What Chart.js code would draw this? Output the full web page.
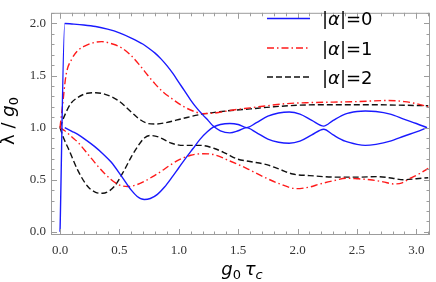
<!DOCTYPE html>
<html>
<head>
<meta charset="utf-8">
<script src="https://cdn.jsdelivr.net/npm/chart.js@4.4.0/dist/chart.umd.min.js"></script>
<style>
  body { margin: 0; background: #fff; }
  canvas { display: block; }
</style>
</head>
<body>
<canvas id="myChart" width="436" height="282"></canvas>
<script>
// |alpha|=0, two branches (blue)
const blueAX = [0, 0.04, 0.1, 0.2, 0.3, 0.4, 0.5, 0.6, 0.7, 0.75, 0.8, 0.85, 0.9, 0.95, 1.0, 1.05, 1.1, 1.15, 1.2, 1.25, 1.29, 1.35, 1.43, 1.5, 1.57, 1.65, 1.75, 1.84, 1.93, 2.02, 2.12, 2.22, 2.3, 2.4, 2.5, 2.57, 2.66, 2.78, 2.9, 3.0, 3.09];
const blueAY = [0, 2.0, 1.995, 1.985, 1.97, 1.945, 1.91, 1.86, 1.80, 1.76, 1.715, 1.66, 1.595, 1.52, 1.435, 1.35, 1.265, 1.19, 1.125, 1.065, 1.015, 0.97, 0.95, 0.97, 1.0, 0.955, 0.89, 0.86, 0.85, 0.87, 0.93, 0.985, 0.93, 0.87, 0.84, 0.83, 0.84, 0.87, 0.92, 0.96, 1.0];
const blueBX = [0.04, 0.1, 0.15, 0.22, 0.29, 0.36, 0.43, 0.52, 0.6, 0.65, 0.71, 0.76, 0.82, 0.88, 0.94, 1.0, 1.06, 1.12, 1.18, 1.24, 1.29, 1.35, 1.43, 1.5, 1.57, 1.65, 1.75, 1.84, 1.93, 2.02, 2.12, 2.22, 2.3, 2.4, 2.5, 2.57, 2.66, 2.78, 2.9, 3.0, 3.09];
const blueBY = [1.0, 0.965, 0.935, 0.88, 0.82, 0.75, 0.67, 0.53, 0.40, 0.34, 0.31, 0.32, 0.36, 0.43, 0.52, 0.615, 0.71, 0.80, 0.89, 0.96, 1.005, 1.03, 1.04, 1.03, 1.0, 1.045, 1.11, 1.14, 1.15, 1.13, 1.07, 1.015, 1.07, 1.13, 1.155, 1.16, 1.155, 1.13, 1.08, 1.04, 1.0];

// |alpha|=1 (red)
const redAX = [0, 0.02, 0.05, 0.1, 0.15, 0.22, 0.3, 0.35, 0.45, 0.52, 0.6, 0.67, 0.74, 0.8, 0.87, 0.94, 1.0, 1.06, 1.13, 1.2, 1.3, 1.46, 1.6, 1.74, 1.9, 2.1, 2.3, 2.5, 2.75, 2.9, 3.0, 3.1];
const redAY = [1.0, 1.2, 1.5, 1.66, 1.74, 1.79, 1.82, 1.825, 1.80, 1.765, 1.69, 1.60, 1.50, 1.42, 1.34, 1.28, 1.23, 1.19, 1.155, 1.135, 1.14, 1.17, 1.19, 1.21, 1.23, 1.24, 1.245, 1.25, 1.26, 1.25, 1.23, 1.20];
const redBX = [0, 0.04, 0.1, 0.15, 0.26, 0.375, 0.49, 0.57, 0.64, 0.71, 0.78, 0.85, 0.92, 1.0, 1.1, 1.2, 1.3, 1.43, 1.57, 1.71, 1.85, 1.99, 2.1, 2.19, 2.3, 2.41, 2.5, 2.61, 2.72, 2.81, 2.88, 2.95, 3.03, 3.1];
const redBY = [1.0, 0.97, 0.91, 0.86, 0.71, 0.56, 0.455, 0.435, 0.45, 0.485, 0.53, 0.58, 0.635, 0.69, 0.735, 0.75, 0.74, 0.68, 0.61, 0.53, 0.46, 0.415, 0.43, 0.46, 0.49, 0.515, 0.51, 0.50, 0.48, 0.46, 0.47, 0.515, 0.56, 0.61];

// |alpha|=2 (black)
const blackAX = [0, 0.04, 0.09, 0.15, 0.23, 0.3, 0.38, 0.49, 0.6, 0.67, 0.74, 0.8, 0.88, 1.04, 1.2, 1.4, 1.6, 1.8, 2.0, 2.3, 2.6, 2.9, 3.1];
const blackAY = [1.0, 1.12, 1.23, 1.29, 1.33, 1.335, 1.32, 1.26, 1.15, 1.08, 1.04, 1.035, 1.045, 1.09, 1.13, 1.16, 1.18, 1.20, 1.215, 1.22, 1.22, 1.215, 1.21];
const blackBX = [0, 0.03, 0.07, 0.15, 0.23, 0.3, 0.36, 0.41, 0.46, 0.54, 0.6, 0.66, 0.71, 0.76, 0.83, 0.94, 1.04, 1.18, 1.3, 1.4, 1.49, 1.6, 1.74, 1.85, 1.96, 2.1, 2.33, 2.5, 2.67, 2.8, 2.89, 3.0, 3.1];
const blackBY = [1.0, 0.9, 0.80, 0.59, 0.44, 0.38, 0.37, 0.39, 0.44, 0.59, 0.72, 0.83, 0.90, 0.925, 0.91, 0.85, 0.83, 0.83, 0.80, 0.75, 0.70, 0.675, 0.645, 0.60, 0.555, 0.54, 0.525, 0.525, 0.53, 0.515, 0.50, 0.51, 0.52];

const xTicks = [0, 0.5, 1.0, 1.5, 2.0, 2.5, 3.0];
const yTicks = [0, 0.5, 1.0, 1.5, 2.0];
const legendLabels = ['0', '1', '2'];

function pts(xs, ys) {
  return xs.map(function (x, i) { return { x: x, y: ys[i] }; });
}

const BLUE = '#1a1aff';
const RED = '#ff1a1a';
const BLACK = '#111111';
const dashDot = [7, 3, 1.5, 3];
const dashed = [6, 3];

function line(data, color, dash) {
  return {
    data: data,
    borderColor: color,
    borderWidth: 1.4,
    borderDash: dash,
    pointRadius: 0,
    fill: false,
    cubicInterpolationMode: 'monotone',
  };
}

// frame with inward ticks, axis titles, legend
const decorations = {
  id: 'decorations',
  afterDraw(chart) {
    const ctx = chart.ctx, a = chart.chartArea;
    const xs = chart.scales.x, ys = chart.scales.y;
    ctx.save();
    ctx.strokeStyle = '#9c9c9c';
    ctx.lineWidth = 1;
    ctx.strokeRect(a.left + 0.5, a.top + 0.5, a.right - a.left - 1, a.bottom - a.top - 1);
    ctx.beginPath();
    for (let i = 0; i <= 31; i++) {
      const px = Math.round(xs.getPixelForValue(i / 10)) + 0.5;
      const len = i % 5 === 0 ? 6 : 3.5;
      ctx.moveTo(px, a.bottom); ctx.lineTo(px, a.bottom - len);
      ctx.moveTo(px, a.top); ctx.lineTo(px, a.top + len);
    }
    for (let i = 0; i <= 21; i++) {
      const py = Math.round(ys.getPixelForValue(i / 10)) + 0.5;
      const len = i % 5 === 0 ? 6 : 3.5;
      ctx.moveTo(a.left, py); ctx.lineTo(a.left + len, py);
      ctx.moveTo(a.right, py); ctx.lineTo(a.right - len, py);
    }
    ctx.stroke();

    ctx.fillStyle = '#000';
    ctx.textBaseline = 'alphabetic';
    function pieces(list, x0, y0) {
      let x = x0;
      list.forEach(function (p) {
        ctx.font = p[1];
        ctx.fillText(p[0], x, y0 + (p[2] || 0));
        x += ctx.measureText(p[0]).width;
      });
    }
    function width(list) {
      let w = 0;
      list.forEach(function (p) { ctx.font = p[1]; w += ctx.measureText(p[0]).width; });
      return w;
    }
    const big = '18px "DejaVu Sans"', bigI = 'italic 18px "DejaVu Sans"';
    const sub = '13px "DejaVu Sans"', subI = 'italic 13px "DejaVu Sans"';

    // x title
    const xt = [['g', bigI], ['0', sub, 4], ['\u2009', big], ['\u03c4', bigI], ['c', subI, 4]];
    pieces(xt, 242 - width(xt) / 2, 275);

    // y title
    const yt = [['\u03bb', big], [' / ', big], ['g', bigI], ['0', sub, 4]];
    ctx.save();
    ctx.translate(14, 121);
    ctx.rotate(-Math.PI / 2);
    pieces(yt, -width(yt) / 2, 0);
    ctx.restore();

    // legend
    const rows = [0, 2, 4];
    const rowY = [18.5, 48, 77];
    rows.forEach(function (di, k) {
      const ds = chart.data.datasets[di];
      ctx.save();
      ctx.strokeStyle = ds.borderColor;
      ctx.lineWidth = 1.4;
      ctx.setLineDash(ds.borderDash || []);
      ctx.beginPath();
      ctx.moveTo(267, rowY[k]);
      ctx.lineTo(310, rowY[k]);
      ctx.stroke();
      ctx.restore();
      pieces([['|', big], ['\u03b1', bigI], ['|=' + legendLabels[k], big]], 322, rowY[k] + 6.5);
    });
    ctx.restore();
  }
};

const ctx = document.getElementById('myChart').getContext('2d');
const myChart = new Chart(ctx, {
  type: 'line',
  data: {
    datasets: [
      line(pts(blueAX, blueAY), BLUE, []),
      line(pts(blueBX, blueBY), BLUE, []),
      line(pts(redAX, redAY), RED, dashDot),
      line(pts(redBX, redBY), RED, dashDot),
      line(pts(blackAX, blackAY), BLACK, dashed),
      line(pts(blackBX, blackBY), BLACK, dashed),
    ],
  },
  options: {
    responsive: false,
    animation: false,
    devicePixelRatio: 1,
    layout: { padding: { top: 0, right: 6, left: 0, bottom: 0 } },
    plugins: { legend: { display: false }, tooltip: { enabled: false } },
    scales: {
      x: {
        type: 'linear',
        min: -0.076,
        max: 3.115,
        grid: { display: false, drawTicks: false },
        border: { display: false },
        afterBuildTicks: function (s) { s.ticks = xTicks.map(function (v) { return { value: v }; }); },
        afterFit: function (s) { s.height = 47; },
        ticks: {
          padding: 8,
          color: '#333',
          font: { family: '"Liberation Serif"', size: 13 },
          callback: function (v) { return Number(v).toFixed(1); },
        },
      },
      y: {
        type: 'linear',
        min: -0.03,
        max: 2.102,
        grid: { display: false, drawTicks: false },
        border: { display: false },
        afterBuildTicks: function (s) { s.ticks = yTicks.map(function (v) { return { value: v }; }); },
        afterFit: function (s) { s.width = 51; },
        ticks: {
          padding: 5,
          color: '#333',
          font: { family: '"Liberation Serif"', size: 13 },
          callback: function (v) { return Number(v).toFixed(1); },
        },
      },
    },
  },
  plugins: [decorations],
});
</script>
</body>
</html>
